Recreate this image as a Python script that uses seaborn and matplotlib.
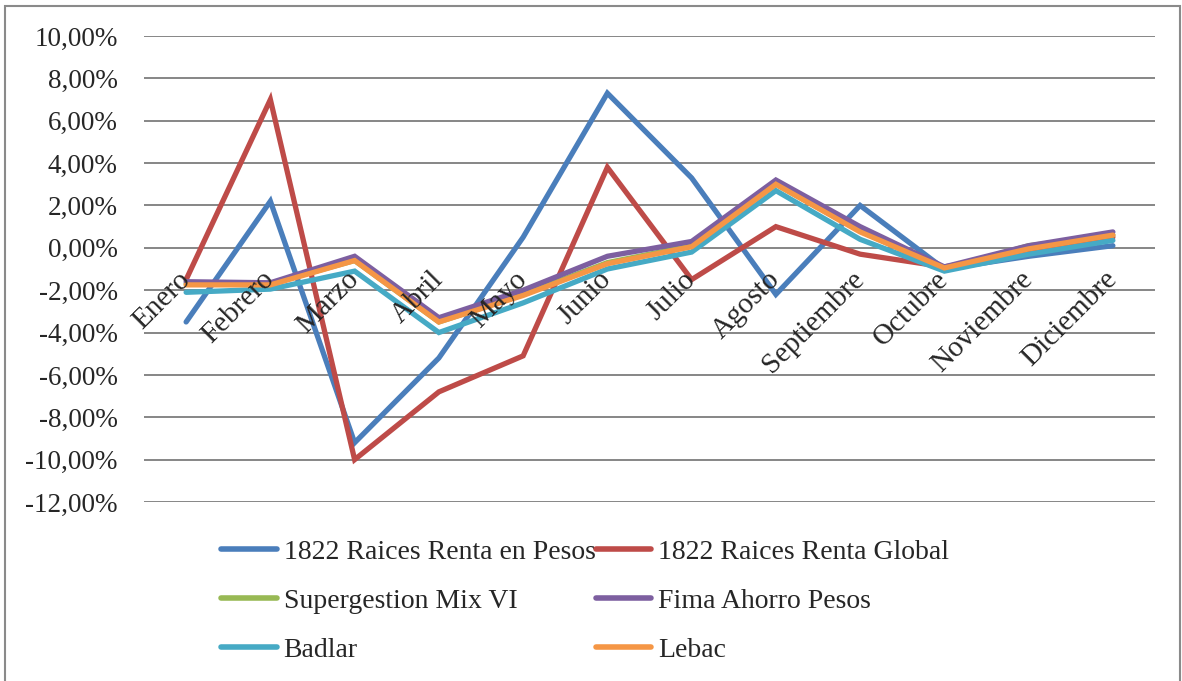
import pandas as pd
import numpy as np
from matplotlib import pyplot as plt
from matplotlib.ticker import FuncFormatter, MultipleLocator
from matplotlib.patches import Rectangle
import seaborn as sns

meses = ['Enero', 'Febrero', 'Marzo', 'Abril', 'Mayo', 'Junio', 'Julio',
         'Agosto', 'Septiembre', 'Octubre', 'Noviembre', 'Diciembre']

# rendimientos mensuales en %
raices_pesos = [-3.5, 2.2, -9.2, -5.2, 0.5, 7.3, 3.3, -2.2, 2.0, -1.0, -0.4, 0.1]
raices_global = [-1.5, 7.0, -10.0, -6.8, -5.1, 3.8, -1.5, 1.0, -0.3, -0.9, -0.2, 0.5]
supergestion = [-1.7, -1.7, -0.6, -3.5, -2.2, -0.7, 0.1, 3.0, 0.8, -1.0, 0.1, 0.6]
fima = [-1.6, -1.65, -0.4, -3.3, -2.0, -0.4, 0.3, 3.2, 1.0, -0.9, 0.1, 0.75]
badlar = [-2.1, -1.95, -1.1, -4.0, -2.6, -1.0, -0.2, 2.7, 0.4, -1.1, -0.3, 0.35]
lebac = [-1.75, -1.75, -0.6, -3.5, -2.25, -0.75, 0.05, 3.0, 0.75, -0.95, -0.05, 0.6]

series = ['1822 Raices Renta en Pesos', '1822 Raices Renta Global',
          'Supergestion Mix VI', 'Fima Ahorro Pesos', 'Badlar', 'Lebac']
valores = [raices_pesos, raices_global, supergestion, fima, badlar, lebac]
colores = ['#4a7ebb', '#be4b48', '#98b954', '#7d5fa0', '#46aac5', '#f59645']

df = pd.concat([pd.DataFrame({'mes': meses, 'valor': v, 'serie': s})
                for s, v in zip(series, valores)], ignore_index=True)

sns.set_style('white')
plt.rcParams['font.family'] = ['Liberation Serif', 'DejaVu Serif']

fig = plt.figure(figsize=(11.82, 6.81), dpi=100)
ax = fig.add_axes([144 / 1182, 1 - 502 / 681, (1155 - 144) / 1182, (502 - 36) / 681])

sns.lineplot(data=df, x='mes', y='valor', hue='serie', hue_order=series,
             palette=colores, linewidth=3.8, sort=False, ax=ax,
             solid_capstyle='round', solid_joinstyle='miter')

ax.set_ylim(-12, 10)
ax.set_xlim(-0.5, len(meses) - 0.5)
ax.yaxis.set_major_locator(MultipleLocator(2))
ax.yaxis.set_major_formatter(FuncFormatter(lambda v, p: f'{v:.2f}%'.replace('.', ',')))
ax.grid(axis='y', color='#868686', linewidth=1.4)
ax.grid(axis='x', visible=False)
ax.set_axisbelow(True)
ax.xaxis.set_zorder(3)  # etiquetas de meses por encima de las lineas
ax.set_xlabel('')
ax.set_ylabel('')

for s in ['top', 'right', 'left']:
    ax.spines[s].set_visible(False)
ax.spines['bottom'].set_position(('data', 0))
ax.spines['bottom'].set_color('none')

ax.tick_params(axis='y', length=0, pad=19, labelsize=19.5)
ax.tick_params(axis='x', length=0, pad=20, labelsize=21)
ax.set_xticks(range(len(meses)))
ax.set_xticklabels(meses, rotation=45, ha='right', va='center', rotation_mode='anchor')

# leyenda leida por filas, como en Excel
handles, labels = ax.get_legend_handles_labels()
orden = [0, 2, 4, 1, 3, 5]
leg = ax.legend([handles[i] for i in orden], [labels[i] for i in orden],
                loc='center', bbox_to_anchor=(0.495, 0.117), bbox_transform=fig.transFigure,
                ncol=2, frameon=False, fontsize=20, handlelength=2.0, handletextpad=0.25,
                columnspacing=0.0, labelspacing=0.85)
for line in leg.get_lines():
    line.set_linewidth(4)

fig.patches.append(Rectangle((5 / 1182, -0.05), 1175 / 1182, 1.05 - 6 / 681,
                             transform=fig.transFigure, fill=False,
                             edgecolor='#8a8a8a', linewidth=1.5))

fig.savefig('out.png', dpi=100)
